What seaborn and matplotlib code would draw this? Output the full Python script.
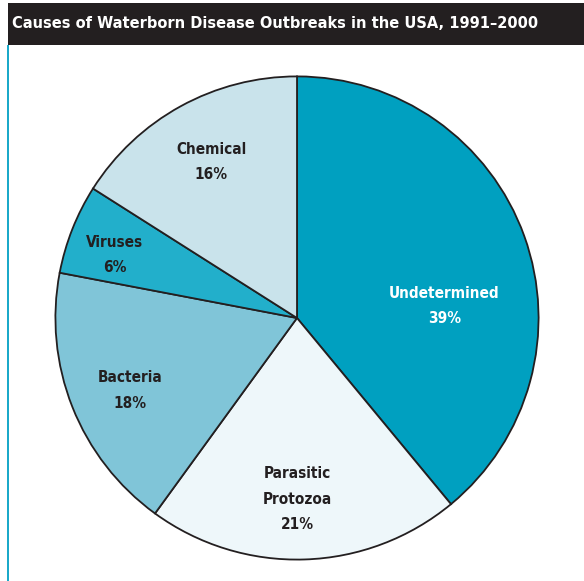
import matplotlib
matplotlib.use("Agg")
import matplotlib.pyplot as plt
from matplotlib.patches import Rectangle
from matplotlib import font_manager
import seaborn as sns

causes = ["Undetermined", "Parasitic\nProtozoa", "Bacteria", "Viruses", "Chemical"]
shares = [39, 21, 18, 6, 16]
colors = ["#00a0c0", "#eef7fa", "#80c5d8", "#22afcb", "#c9e3eb"]
text_colors = ["white", "#231f20", "#231f20", "#231f20", "#231f20"]
label_pos = [(0.61, 0.05), (0.0, -0.75), (-0.69, -0.30), (-0.755, 0.26), (-0.355, 0.645)]
title = "Causes of Waterborn Disease Outbreaks in the USA, 1991\u20132000"

sns.set_theme(style="white")
names = {f.name for f in font_manager.fontManager.ttflist}
narrow = "Liberation Sans Narrow" if "Liberation Sans Narrow" in names else "DejaVu Sans"
plt.rcParams["font.family"] = [narrow, "DejaVu Sans"]
plt.rcParams["font.stretch"] = "condensed"

fig = plt.figure(figsize=(5.84, 5.81), dpi=100)
fig.patch.set_facecolor("white")

# title bar and left rule
fig.patches.append(Rectangle((8 / 584, 1 - 45 / 581), 1, 42 / 581, transform=fig.transFigure,
                             facecolor="#231f20", edgecolor="none"))
fig.patches.append(Rectangle((7 / 584, 0), 2 / 584, 1 - 45 / 581, transform=fig.transFigure,
                             facecolor="#1ba9c9", edgecolor="none"))
t = fig.text(12 / 584, 1 - 24 / 581, title, color="white", fontsize=14, fontweight="bold",
             fontstretch="condensed", va="center", ha="left")
fig.canvas.draw()
w = t.get_window_extent().width
t.set_fontsize(14 * 525 / w)

ax = fig.add_axes([(297 - 244) / 584, (581 - 318 - 244) / 581, 488 / 584, 488 / 581])
ax.pie(shares, colors=colors, startangle=90, counterclock=False, radius=1,
       wedgeprops=dict(edgecolor="#231f20", linewidth=1.3))
ax.set_xlim(-1.01, 1.01)
ax.set_ylim(-1.01, 1.01)
ax.set_aspect("auto")
ax.axis("off")

for name, pct, tc, (x, y) in zip(causes, shares, text_colors, label_pos):
    ax.text(x, y, f"{name}\n{pct}%", ha="center", va="center", color=tc,
            fontsize=11, fontweight="bold", fontstretch="condensed", linespacing=1.85)

fig.savefig("out.png", dpi=100, facecolor="white")
